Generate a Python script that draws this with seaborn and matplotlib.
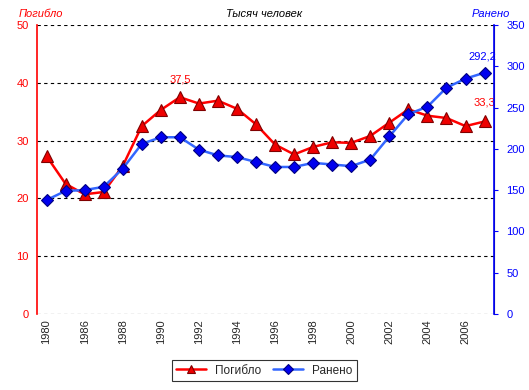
import pandas as pd
import matplotlib.pyplot as plt
import seaborn as sns

years = ['1980', '1985', '1986', '1987', '1988', '1989', '1990', '1991', '1992', '1993', '1994', '1995',
         '1996', '1997', '1998', '1999', '2000', '2001', '2002', '2003', '2004', '2005', '2006', '2007']
killed = [27.3, 22.5, 20.7, 21.1, 25.6, 32.5, 35.3, 37.5, 36.4, 36.9, 35.5, 32.8,
          29.3, 27.6, 28.9, 29.7, 29.6, 30.8, 33.1, 35.4, 34.3, 33.9, 32.5, 33.3]
injured = [138, 149, 150, 154, 176, 206, 214, 214, 199, 192, 190, 184,
           178, 178, 183, 181, 179, 187, 215, 242, 251, 274, 285, 292.2]

df = pd.DataFrame({'pos': range(len(years)), 'year': years, 'killed': killed, 'injured': injured})

sns.set_style('white')
plt.rcParams['font.family'] = ['Liberation Sans', 'DejaVu Sans']

fig = plt.figure(figsize=(5.29, 3.9), dpi=100)
ax = fig.add_axes([0.07, 0.195, 0.864, 0.741])
ax2 = ax.twinx()

sns.lineplot(data=df, x='pos', y='killed', ax=ax, color='#ff0000', lw=1.8, marker='^', markersize=8,
             markerfacecolor='#ee0000', markeredgecolor='#800000', markeredgewidth=0.8, label='Погибло', legend=False)
sns.lineplot(data=df, x='pos', y='injured', ax=ax2, color='#3366ff', lw=1.8, marker='D', markersize=6,
             markerfacecolor='#0000ee', markeredgecolor='#000080', markeredgewidth=0.8, label='Ранено', legend=False)

ax.set_xlim(-0.5, len(years) - 0.5)
ax.set_ylim(0, 50)
ax2.set_ylim(0, 350)
ax.set_yticks(range(0, 51, 10))
ax2.set_yticks(range(0, 351, 50))
ax.set_xticks(df['pos'][::2])
ax.set_xticklabels(['1980'] + years[2::2], rotation=90, fontsize=8)
ax.set_xlabel('')
ax.set_ylabel('')
ax2.set_ylabel('')
ax.tick_params(axis='y', colors='#ff0000', labelsize=8, length=0, pad=6)
ax2.tick_params(axis='y', colors='#0000ff', labelsize=8, length=3, direction='out', pad=6)
ax.tick_params(axis='x', length=0, pad=4)

ax.yaxis.grid(True, color='black', linestyle=(0, (3, 3)), lw=0.8)
ax.set_axisbelow(True)
for a in (ax, ax2):
    a.spines['top'].set_visible(False)
    a.spines['bottom'].set_visible(False)
ax.spines['left'].set_color('#ff0000')
ax2.spines['left'].set_visible(False)
ax2.spines['right'].set_color('#0000ff')
ax2.spines['right'].set_linewidth(1.2)
ax.spines['left'].set_linewidth(1.2)

ax.text(7, 37.5 + 3.0, '37,5', color='#ff0000', fontsize=8, ha='center', va='center')
ax.text(23, 33.3 + 3.2, '33,3', color='#ff0000', fontsize=8, ha='center', va='center')
ax2.text(22.9, 292.2 + 20, '292,2', color='#0000ff', fontsize=8, ha='center', va='center')

fig.text(0.035, 0.965, 'Погибло', color='#ff0000', fontsize=8, style='italic', ha='left', va='center')
fig.text(0.5, 0.965, 'Тысяч человек', color='black', fontsize=8, style='italic', ha='center', va='center')
fig.text(0.965, 0.965, 'Ранено', color='#0000ff', fontsize=8, style='italic', ha='right', va='center')

h1, l1 = ax.get_legend_handles_labels()
h2, l2 = ax2.get_legend_handles_labels()
leg = fig.legend(h1 + h2, l1 + l2, loc='center', bbox_to_anchor=(0.5, 0.05), ncol=2, fontsize=8.5,
                 frameon=True, fancybox=False, edgecolor='black', handlelength=2.5, columnspacing=1.0,
                 borderpad=0.4, markerscale=0.8)
leg.get_frame().set_linewidth(0.8)

fig.savefig('out.png', dpi=100)
